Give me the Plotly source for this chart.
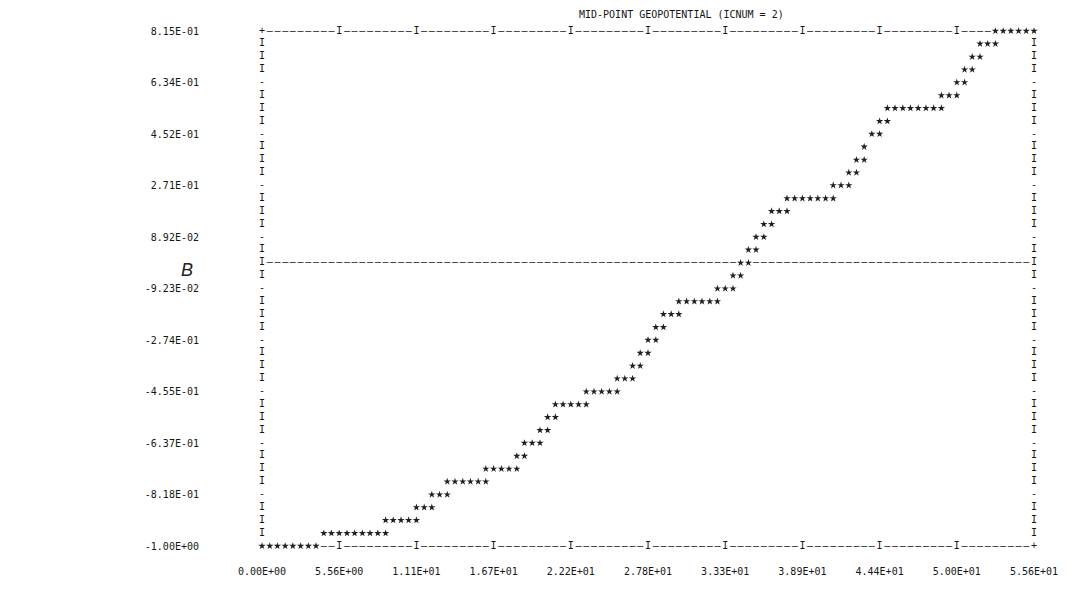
import plotly.graph_objects as go

# ---------------- data ----------------
TITLE = "MID-POINT GEOPOTENTIAL (ICNUM = 2)"

X_TICK_VALUES = [0.0, 5.56, 11.12, 16.68, 22.24, 27.8, 33.36, 38.92, 44.48, 50.04, 55.6]
X_TICK_LABELS = ["0.00E+00", "5.56E+00", "1.11E+01", "1.67E+01", "2.22E+01", "2.78E+01",
                 "3.33E+01", "3.89E+01", "4.44E+01", "5.00E+01", "5.56E+01"]

Y_TICK_VALUES = [0.815, 0.6335, 0.452, 0.2705, 0.089, -0.0925, -0.274, -0.4555, -0.637, -0.8185, -1.0]
Y_TICK_LABELS = ["8.15E-01", "6.34E-01", "4.52E-01", "2.71E-01", "8.92E-02", "-9.23E-02",
                 "-2.74E-01", "-4.55E-01", "-6.37E-01", "-8.18E-01", "-1.00E+00"]

# plotted '*' points (x, geopotential)
STAR_X = [
    0.00, 0.56, 1.11, 1.67, 2.22, 2.78, 3.34, 3.89,
    4.45, 5.00, 5.56, 6.12, 6.67, 7.23, 7.78, 8.34, 8.90,
    8.90, 9.45, 10.01, 10.56, 11.12,
    11.12, 11.68, 12.23,
    12.23, 12.79, 13.34,
    13.34, 13.90, 14.46, 15.01, 15.57, 16.12,
    16.12, 16.68, 17.24, 17.79, 18.35,
    18.35, 18.90,
    18.90, 19.46, 20.02,
    20.02, 20.57,
    20.57, 21.13,
    21.13, 21.68, 22.24, 22.80, 23.35,
    23.35, 23.91, 24.46, 25.02, 25.58,
    25.58, 26.13, 26.69,
    26.69, 27.24,
    27.24, 27.80,
    27.80, 28.36,
    28.36, 28.91,
    28.91, 29.47, 30.02,
    30.02, 30.58, 31.14, 31.69, 32.25, 32.80,
    32.80, 33.36, 33.92,
    33.92, 34.47,
    34.47, 35.03,
    35.03, 35.58,
    35.58, 36.14,
    36.14, 36.70,
    36.70, 37.25, 37.81,
    37.81, 38.36, 38.92, 39.48, 40.03, 40.59, 41.14,
    41.14, 41.70, 42.26,
    42.26, 42.81,
    42.81, 43.37,
    43.37,
    43.92, 44.48,
    44.48, 45.04,
    45.04, 45.59, 46.15, 46.70, 47.26, 47.82, 48.37, 48.93,
    48.93, 49.48, 50.04,
    50.04, 50.60,
    50.60, 51.15,
    51.15, 51.71,
    51.71, 52.26, 52.82,
    52.82, 53.38, 53.93, 54.49, 55.04, 55.60,
]
STAR_Y = [
    -1.000, -1.000, -1.000, -1.000, -1.000, -1.000, -1.000, -1.000,
    -0.955, -0.955, -0.955, -0.955, -0.955, -0.955, -0.955, -0.955, -0.955,
    -0.909, -0.909, -0.909, -0.909, -0.909,
    -0.864, -0.864, -0.864,
    -0.819, -0.819, -0.819,
    -0.773, -0.773, -0.773, -0.773, -0.773, -0.773,
    -0.728, -0.728, -0.728, -0.728, -0.728,
    -0.683, -0.683,
    -0.637, -0.637, -0.637,
    -0.592, -0.592,
    -0.546, -0.546,
    -0.501, -0.501, -0.501, -0.501, -0.501,
    -0.456, -0.456, -0.456, -0.456, -0.456,
    -0.410, -0.410, -0.410,
    -0.365, -0.365,
    -0.320, -0.320,
    -0.274, -0.274,
    -0.229, -0.229,
    -0.183, -0.183, -0.183,
    -0.138, -0.138, -0.138, -0.138, -0.138, -0.138,
    -0.093, -0.093, -0.093,
    -0.047, -0.047,
    -0.002, -0.002,
    0.044, 0.044,
    0.089, 0.089,
    0.134, 0.134,
    0.180, 0.180, 0.180,
    0.225, 0.225, 0.225, 0.225, 0.225, 0.225, 0.225,
    0.271, 0.271, 0.271,
    0.316, 0.316,
    0.361, 0.361,
    0.407,
    0.452, 0.452,
    0.497, 0.497,
    0.543, 0.543, 0.543, 0.543, 0.543, 0.543, 0.543, 0.543,
    0.588, 0.588, 0.588,
    0.634, 0.634,
    0.679, 0.679,
    0.724, 0.724,
    0.770, 0.770, 0.770,
    0.815, 0.815, 0.815, 0.815, 0.815, 0.815,
]

# ---------------- printer-plot frame (character grid) ----------------
X_MIN, X_MAX = X_TICK_VALUES[0], X_TICK_VALUES[-1]
Y_MIN, Y_MAX = Y_TICK_VALUES[-1], Y_TICK_VALUES[0]
N_COLS, N_ROWS = 100, 40
DX = (X_MAX - X_MIN) / N_COLS
DY = (Y_MAX - Y_MIN) / N_ROWS


def cx(c):
    return round(min(X_MIN + c * DX, X_MAX), 6)


def ry(r):
    return round(max(Y_MAX - r * DY, Y_MIN), 6)


occupied = {(round((x - X_MIN) / DX), round((Y_MAX - y) / DY)) for x, y in zip(STAR_X, STAR_Y)}
zero_row = round(Y_MAX / DY)

dash_x, dash_y = [], []
char_x, char_y, char_t = [], [], []


def put(c, r, ch):
    if (c, r) in occupied:
        return
    if ch == "-" and r in (0, N_ROWS, zero_row):
        dash_x.append(cx(c)); dash_y.append(ry(r))
    else:
        char_x.append(cx(c)); char_y.append(ry(r)); char_t.append(ch)


# top / bottom borders
for r in (0, N_ROWS):
    for c in range(0, N_COLS + 1):
        if c in (0, N_COLS):
            ch = "+"
        elif c % 10 == 0:
            ch = "I"
        else:
            ch = "-"
        put(c, r, ch)
# zero line
for c in range(0, N_COLS + 1):
    put(c, zero_row, "I" if c in (0, N_COLS) else "-")
# side borders
for r in range(1, N_ROWS):
    if r == zero_row:
        continue
    for c in (0, N_COLS):
        put(c, r, "-" if r % 4 == 0 else "I")

INK = "#161616"
MONO = "DejaVu Sans Mono"

fig = go.Figure()
fig.add_trace(go.Scatter(
    x=dash_x, y=dash_y, mode="text", text=["–"] * len(dash_x),
    textfont=dict(family=MONO, size=10, color=INK), textposition="middle center",
    cliponaxis=False, hoverinfo="skip", showlegend=False))
fig.add_trace(go.Scatter(
    x=char_x, y=char_y, mode="text", text=char_t,
    textfont=dict(family=MONO, size=10, color=INK), textposition="middle center",
    cliponaxis=False, hoverinfo="skip", showlegend=False))
fig.add_trace(go.Scatter(
    x=STAR_X, y=STAR_Y, mode="markers",
    marker=dict(symbol="star", size=5.5, color="#202020", line=dict(width=0)),
    cliponaxis=False, name="geopotential", showlegend=False))

# page body has an 8px default margin: size the figure so it fits the 1071x597 window
fig.update_layout(
    width=1055, height=581,
    margin=dict(l=254, r=28.5, t=23, b=43, autoexpand=False),
    paper_bgcolor="white", plot_bgcolor="white",
    font=dict(family=MONO, size=10, color=INK),
    showlegend=False,
    xaxis=dict(range=[X_MIN, X_MAX], showgrid=False, zeroline=False, showline=False,
               automargin=False,
               tickvals=X_TICK_VALUES, ticktext=X_TICK_LABELS, ticks="",
               ticklabelstandoff=18, tickfont=dict(family=MONO, size=10, color=INK)),
    yaxis=dict(range=[Y_MIN, Y_MAX], showgrid=False, zeroline=False, showline=False,
               automargin=False,
               tickvals=Y_TICK_VALUES, ticktext=Y_TICK_LABELS, ticks="",
               ticklabelstandoff=62, tickfont=dict(family=MONO, size=10, color=INK)),
    annotations=[
        dict(text=TITLE, xref="paper", yref="paper", x=0.408, y=1.033,
             xanchor="left", yanchor="middle", showarrow=False,
             font=dict(family=MONO, size=10, color=INK)),
        dict(text="<i>B</i>", xref="paper", yref="paper", x=-0.097, y=0.536,
             xanchor="center", yanchor="middle", showarrow=False,
             font=dict(family="Liberation Sans", size=18, color="#222")),
    ],
)

fig.write_html("out.html")
